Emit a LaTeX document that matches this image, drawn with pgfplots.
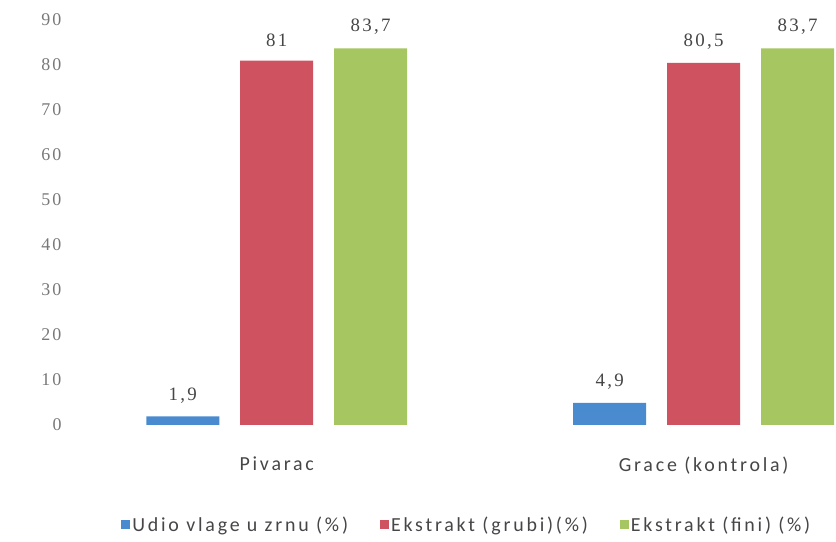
\documentclass[border=0pt]{standalone}
\usepackage{pgfplots}
\pgfplotsset{compat=1.18}
\usepackage{fontspec}
\setmainfont{Carlito}
\newfontfamily\txtfont[LetterSpace=14]{Carlito}
\newfontfamily\numfont[LetterSpace=12]{Liberation Serif}

\definecolor{vlaga}{RGB}{74,139,207}
\definecolor{grubi}{RGB}{207,82,96}
\definecolor{fini}{RGB}{166,198,98}
\definecolor{ticktxt}{RGB}{120,120,120}
\definecolor{labtxt}{RGB}{70,70,70}

\begin{document}
\begin{tikzpicture}
\useasboundingbox (0,0) rectangle (836bp,542bp);
\begin{axis}[
    at={(62bp,117bp)}, anchor=south west,
    scale only axis,
    width=774bp, height=405bp,
    xmin=-0.503, xmax=1.31,
    ymin=0, ymax=90,
    ytick={0,10,...,90},
    xtick={0,1},
    xticklabels={Pivarac, Grace (kontrola)},
    axis line style={draw=none},
    major tick style={draw=none},
    /pgf/number format/assume math mode=true,
    /pgf/number format/use comma,
    yticklabel shift=-3bp,
    yticklabel style={font=\numfont\fontsize{18}{18}\selectfont, text=ticktxt},
    xticklabel style={font=\txtfont\fontsize{20}{20}\selectfont, text=labtxt, yshift=-24bp},
    ybar, bar width=0.171, bar shift=0,
    nodes near coords,
    every node near coord/.append style={font=\numfont\fontsize{19}{19}\selectfont, text=labtxt, anchor=south, yshift=10bp},
    legend columns=3,
    legend style={draw=none, at={(0.523,-0.247)}, anchor=center,
        font=\txtfont\fontsize{20}{20}\selectfont, text=labtxt,
        /tikz/every even column/.append style={column sep=30bp}},
    legend image code/.code={\fill[#1] (0bp,-4bp) rectangle (9bp,5bp);},
]
% bars placed at group position plus their offset within the group
\addplot[fill=vlaga, draw=none] coordinates {(-0.22,1.9) (0.78,4.9)};
\addplot[fill=grubi, draw=none] coordinates {(0,81) (1,80.5)};
\addplot[fill=fini, draw=none] coordinates {(0.22,83.7) (1.22,83.7)};
\legend{Udio vlage u zrnu (\%), Ekstrakt (grubi)(\%), Ekstrakt (fini) (\%)}
\end{axis}
\end{tikzpicture}
\end{document}
